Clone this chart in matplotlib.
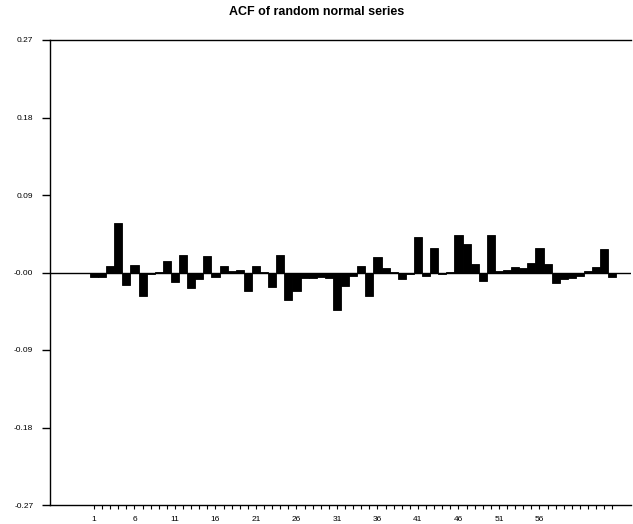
import matplotlib
matplotlib.use("Agg")
import matplotlib.pyplot as plt

# autocorrelations, lags 1..65
lags = list(range(1, 66))
acf = [
    -0.005, -0.005, 0.008, 0.058, -0.015, 0.009, -0.027, -0.002, 0.001, 0.013,
    -0.011, 0.020, -0.018, -0.008, 0.019, -0.005, 0.007, 0.002, 0.003, -0.022,
    0.008, 0.001, -0.017, 0.020, -0.032, -0.022, -0.006, -0.006, -0.005, -0.006,
    -0.044, -0.016, -0.004, 0.008, -0.027, 0.018, 0.005, 0.001, -0.008, -0.002,
    0.041, -0.004, 0.028, -0.002, 0.001, 0.044, 0.033, 0.010, -0.010, 0.043,
    0.002, 0.003, 0.006, 0.005, 0.011, 0.029, 0.010, -0.012, -0.008, -0.006,
    -0.004, 0.002, 0.006, 0.027, -0.005,
]
y_ticks = [0.27, 0.18, 0.09, 0.0, -0.09, -0.18, -0.27]
y_labels = ["0.27", "0.18", "0.09", "-0.00", "-0.09", "-0.18", "-0.27"]
x_ticks = list(range(1, 57, 5))

plt.rcParams["font.family"] = ["Liberation Sans", "DejaVu Sans"]

fig = plt.figure(figsize=(6.33, 5.24), dpi=100)
ax = fig.add_axes([50 / 633, 19 / 524, 581 / 633, 465 / 524])

ax.bar(lags, acf, width=1.0, color="black", edgecolor="black", linewidth=0.6)
ax.axhline(0, color="black", linewidth=1.0)

ax.set_ylim(-0.27, 0.27)
ax.set_xlim(-4.43, 67.3)
ax.set_yticks(y_ticks)
ax.set_yticklabels(y_labels)
ax.set_xticks(x_ticks)
ax.set_xticks(lags, minor=True)

ax.spines["right"].set_visible(False)
for side in ["left", "top", "bottom"]:
    ax.spines[side].set_linewidth(1.0)

ax.tick_params(axis="y", direction="out", length=6, width=1.0, labelsize=6, pad=6)
ax.tick_params(axis="x", which="both", direction="out", length=3, width=0.8,
               labelsize=6, pad=5)

fig.text(0.5, 1 - 12 / 524, "ACF of random normal series", ha="center", va="center",
         fontsize=9, fontweight="bold")

fig.savefig("out.png", dpi=100)
